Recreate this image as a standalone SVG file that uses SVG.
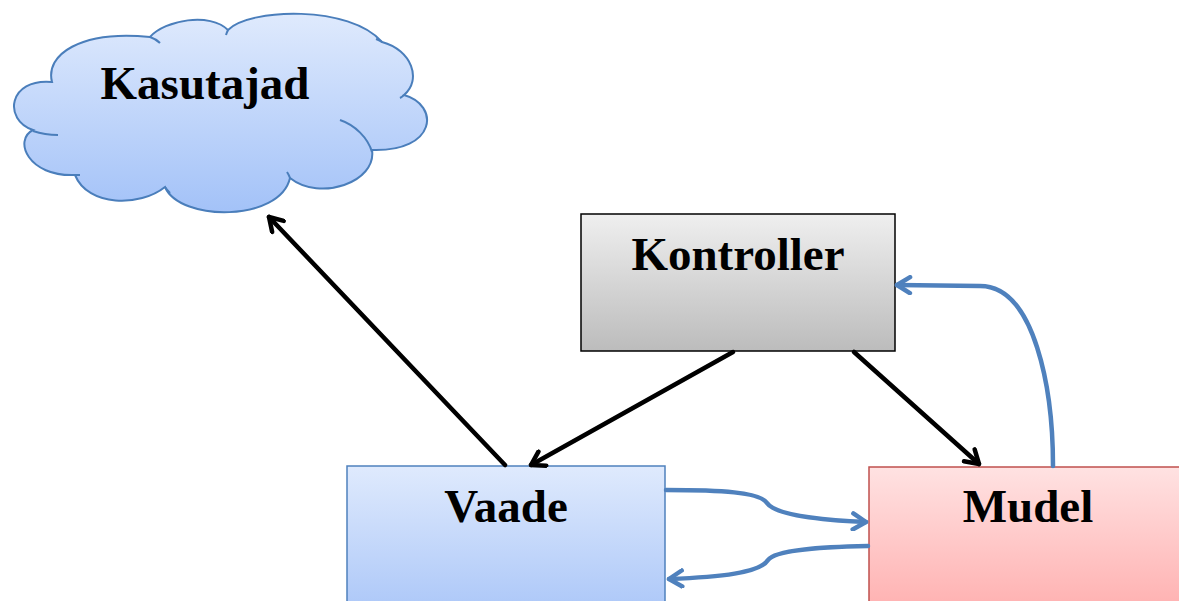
<svg xmlns="http://www.w3.org/2000/svg" width="1179" height="601" viewBox="0 0 1179 601">
<style>
.lbl{font-family:"Liberation Serif","Times New Roman",serif;font-weight:bold;font-size:47px;fill:#000;text-anchor:middle}
.blk{fill:none;stroke:#000;stroke-width:4.5;stroke-linecap:round}
.blu{fill:none;stroke:#4f81bd;stroke-width:4.5;stroke-linecap:round}
</style>
<defs>
<linearGradient id="gBlue" x1="0" y1="0" x2="0" y2="1"><stop offset="0" stop-color="#dfeafd"/><stop offset="1" stop-color="#a3c2f8"/></linearGradient>
<linearGradient id="gBlueBox" x1="0" y1="0" x2="0" y2="1"><stop offset="0" stop-color="#dfeafd"/><stop offset="1" stop-color="#a0bff7"/></linearGradient>
<linearGradient id="gGray" x1="0" y1="0" x2="0" y2="1"><stop offset="0" stop-color="#efefef"/><stop offset="1" stop-color="#bcbcbc"/></linearGradient>
<linearGradient id="gRed" x1="0" y1="0" x2="0" y2="1"><stop offset="0" stop-color="#ffe2e2"/><stop offset="1" stop-color="#ffa4a4"/></linearGradient>
<marker id="aBlk" viewBox="-16 -10 20 20" markerWidth="20" markerHeight="20" refX="0" refY="0" orient="auto" markerUnits="userSpaceOnUse">
<path d="M-13,-8 L0,0 L-13,8" fill="none" stroke="#000" stroke-width="4.5" stroke-linecap="round" stroke-linejoin="round"/>
</marker>
<marker id="aBlu" viewBox="-16 -10 20 20" markerWidth="20" markerHeight="20" refX="0" refY="0" orient="auto" markerUnits="userSpaceOnUse">
<path d="M-13,-8 L0,0 L-13,8" fill="none" stroke="#4f81bd" stroke-width="4.5" stroke-linecap="round" stroke-linejoin="round"/>
</marker>
</defs>
<rect width="1179" height="601" fill="#fff"/>
<g id="kasutajad">
<path d="M52,82 C45,55 80,30 150,37 C165,20 210,12 228,30 C250,8 350,5 382,42 C412,50 422,80 404,95 C440,105 437,152 372,150 C377,182 320,202 290,178 C280,222 180,222 165,187 C140,207 88,207 75,175 C28,177 13,140 33,130 C3,120 8,78 52,82 Z" fill="url(#gBlue)" stroke="#4a7ebb" stroke-width="2"/>
<path d="M150,37 Q156,39 160,43 M228,30 Q227,32 226,35 M382,42 Q379,40 376,39 M404,95 Q402,97 400,98 M340,120 C355,125 368,138 372,152 M290,178 Q289,175 287,172 M165,187 Q167,190 170,193 M75,175 Q77,175 80,175 M33,131 Q45,135 58,135" fill="none" stroke="#4a7ebb" stroke-width="2"/>
<text class="lbl" x="205" y="99">Kasutajad</text>
</g>
<g id="kontroller">
<rect x="581" y="214" width="314" height="137" fill="url(#gGray)" stroke="#000" stroke-width="1.5"/>
<text class="lbl" x="738" y="270">Kontroller</text>
</g>
<g id="vaade">
<rect x="347" y="466" width="318" height="180" fill="url(#gBlueBox)" stroke="#4f81bd" stroke-width="1.5"/>
<text class="lbl" x="506" y="522">Vaade</text>
</g>
<g id="mudel">
<rect x="869" y="467" width="330" height="180" fill="url(#gRed)" stroke="#c0504d" stroke-width="1.5"/>
<text class="lbl" x="1028" y="522">Mudel</text>
</g>
<g id="connectors">
<path class="blk" d="M505,465 L269,217" marker-end="url(#aBlk)"/>
<path class="blk" d="M733,352 L531,465" marker-end="url(#aBlk)"/>
<path class="blk" d="M854,352 L979,464" marker-end="url(#aBlk)"/>
<path class="blu" d="M1053,466 C1053,390 1035,286 980,286 L897,285" marker-end="url(#aBlu)"/>
<path class="blu" d="M666,490 C720,490 760,492 767,503 C775,515 820,520 866,522" marker-end="url(#aBlu)"/>
<path class="blu" d="M868,546 C820,547 775,550 768,560 C760,573 720,577 669,579" marker-end="url(#aBlu)"/>
</g>
</svg>
